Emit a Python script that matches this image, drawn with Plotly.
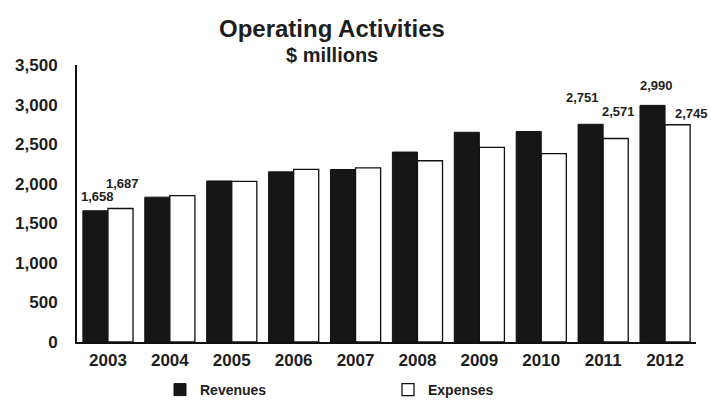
import plotly.graph_objects as go

years = ["2003", "2004", "2005", "2006", "2007", "2008", "2009", "2010", "2011", "2012"]
revenues = [1658, 1830, 2035, 2150, 2180, 2400, 2650, 2660, 2751, 2990]
expenses = [1687, 1850, 2030, 2180, 2200, 2290, 2460, 2380, 2571, 2745]
labeled_years = ["2003", "2011", "2012"]
y_ticks = [0, 500, 1000, 1500, 2000, 2500, 3000, 3500]
y_ticktext = ["0", "500", "1,000", "1,500", "2,000", "2,500", "3,000", "3,500"]

# label offsets (px) from bar centre/top, for labelled years: (revenue dx, dy), (expense dx, dy)
rev_label_shift = {"2003": (2, 14), "2011": (-8, 27), "2012": (4, 20)}
exp_label_shift = {"2003": (2, 25), "2011": (3, 27), "2012": (14, 11)}

FONT = "Liberation Sans, Arial, sans-serif"
INK = "#1e1e1e"

L, R, T, B = 77, 15, 65, 71
PW, PH = 711 - L - R, 413 - T - B
BAR_HALF_OFFSET = 12.5  # px from category centre to each bar centre

def px_x(px):
    return (px - L) / PW

def px_y(py):
    return (413 - B - py) / PH

fig = go.Figure()
fig.add_trace(go.Bar(x=years, y=revenues, name="Revenues",
                     marker=dict(color="#161616", line=dict(color="#111", width=1))))
fig.add_trace(go.Bar(x=years, y=expenses, name="Expenses",
                     marker=dict(color="white", line=dict(color="#111", width=1.3))))

lab_font = dict(family=FONT, size=13, color=INK, weight="bold")
annotations = []
for i, yr in enumerate(years):
    if yr in labeled_years:
        dx, dy = rev_label_shift[yr]
        annotations.append(dict(x=i, y=revenues[i], xref="x", yref="y", xshift=-BAR_HALF_OFFSET + dx,
                                yshift=dy, text=f"{revenues[i]:,}", showarrow=False,
                                xanchor="center", yanchor="middle", font=lab_font))
        dx, dy = exp_label_shift[yr]
        annotations.append(dict(x=i, y=expenses[i], xref="x", yref="y", xshift=BAR_HALF_OFFSET + dx,
                                yshift=dy, text=f"{expenses[i]:,}", showarrow=False,
                                xanchor="center", yanchor="middle", font=lab_font))

annotations.append(dict(x=px_x(332), y=px_y(28), xref="paper", yref="paper", text="Operating Activities",
                        showarrow=False, xanchor="center", yanchor="middle",
                        font=dict(family=FONT, size=24, color=INK, weight="bold")))
annotations.append(dict(x=px_x(332), y=px_y(55), xref="paper", yref="paper", text="$ millions",
                        showarrow=False, xanchor="center", yanchor="middle",
                        font=dict(family=FONT, size=20, color=INK, weight="bold")))

fig.update_layout(
    width=711, height=413,
    margin=dict(l=L, r=R, t=T, b=B, autoexpand=False),
    paper_bgcolor="white", plot_bgcolor="white",
    barmode="group", bargap=0.19, bargroupgap=0,
    font=dict(family=FONT, color=INK),
    annotations=annotations,
    showlegend=True,
    legend=dict(orientation="h", x=px_x(160), xanchor="left",
                y=px_y(374), yanchor="top", entrywidth=183, entrywidthmode="pixels",
                font=dict(family=FONT, size=14, color=INK, weight="bold"),
                itemclick=False),
)
fig.update_xaxes(type="category", range=[-0.5, len(years) - 0.5], showline=True, linecolor="#111",
                 linewidth=2, ticks="", showgrid=False,
                 tickfont=dict(family=FONT, size=17, color=INK, weight="bold"), ticklabelstandoff=2)
fig.update_yaxes(range=[0, 3500], tickvals=y_ticks, ticktext=y_ticktext, showline=True,
                 linecolor="#111", linewidth=2, ticks="", showgrid=False, zeroline=False,
                 tickfont=dict(family=FONT, size=17, color=INK, weight="bold"), ticklabelstandoff=14)

fig.write_html("out.html")
